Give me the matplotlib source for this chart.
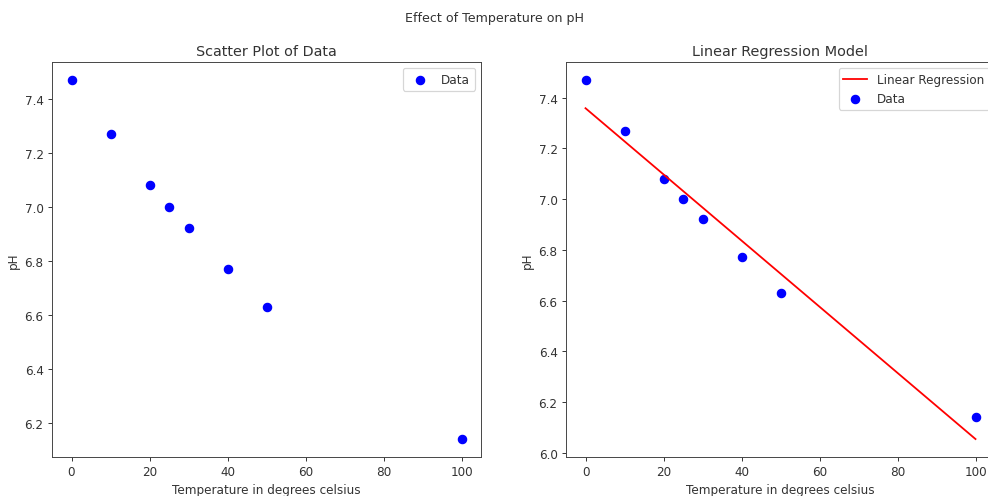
import numpy as np
import matplotlib
matplotlib.use("Agg")
import matplotlib.pyplot as plt

# datos
temperatura = [0, 10, 20, 25, 30, 40, 50, 100]
ph = [7.47, 7.27, 7.08, 7.00, 6.92, 6.77, 6.63, 6.14]

# regresion lineal (minimos cuadrados)
pendiente, intercepto = np.polyfit(temperatura, ph, 1)
x_linea = np.array([0, 100])
y_linea = pendiente * x_linea + intercepto

dpi = 86.4
plt.rcParams['text.color'] = '#333333'
plt.rcParams['axes.labelcolor'] = '#333333'
plt.rcParams['xtick.color'] = '#333333'
plt.rcParams['ytick.color'] = '#333333'
plt.rcParams['axes.edgecolor'] = '#444444'

fig = plt.figure(figsize=(988 / dpi, 497 / dpi), dpi=dpi)
ax1 = fig.add_axes([52 / 988, 39 / 497, 429 / 988, 395 / 497])
ax2 = fig.add_axes([566 / 988, 39 / 497, 429 / 988, 395 / 497])

fig.suptitle("Effect of Temperature on pH", fontsize=10.5, y=0.975)

ax1.scatter(temperatura, ph, color="blue", s=48, label="Data")
ax1.set_title("Scatter Plot of Data")
ax1.set_xlabel("Temperature in degrees celsius")
ax1.set_ylabel("pH")
ax1.legend(loc="upper right")

ax2.plot(x_linea, y_linea, color="red", label="Linear Regression")
ax2.scatter(temperatura, ph, color="blue", s=48, label="Data")
ax2.set_title("Linear Regression Model")
ax2.set_xlabel("Temperature in degrees celsius")
ax2.set_ylabel("pH")
ax2.legend(loc="upper right")

fig.savefig("out.png", dpi=dpi)
